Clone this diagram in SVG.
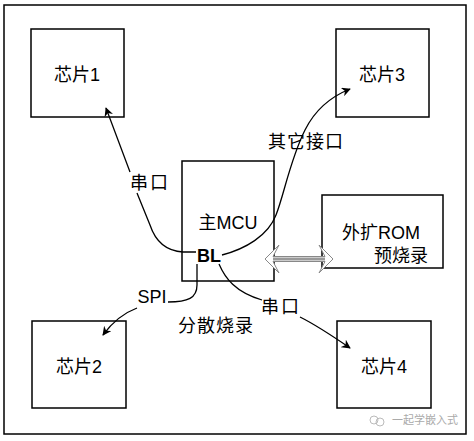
<svg xmlns="http://www.w3.org/2000/svg" width="474" height="441" viewBox="0 0 474 441">
<style>
.box{fill:#fff;stroke:#000;stroke-width:1.5}
.t{font-family:"Liberation Sans","Noto Sans CJK SC",sans-serif;font-size:18px;fill:#000;text-anchor:middle}
.b{font-weight:bold}
.ln{fill:none;stroke:#000;stroke-width:1.3}
.wm{font-family:"Noto Sans CJK SC",sans-serif;font-size:11px;fill:#aaa}
</style>
<defs>
<marker id="ah" viewBox="0 0 10 10" refX="9" refY="5" markerWidth="9" markerHeight="9" markerUnits="userSpaceOnUse" orient="auto">
<path d="M0,0 L10,5 L0,10 L3,5 Z" fill="#000"/>
</marker>
</defs>
<rect x="0" y="0" width="474" height="441" fill="#fff"/>
<rect id="frame" x="4" y="5" width="462" height="429" fill="none" stroke="#000" stroke-width="1.5"/>
<g id="chip1"><rect class="box" x="31" y="29" width="93" height="88"/><text class="t" x="77" y="81">芯片1</text></g>
<g id="chip3"><rect class="box" x="336" y="29" width="93" height="88"/><text class="t" x="382" y="81">芯片3</text></g>
<g id="chip2"><rect class="box" x="32" y="321" width="94" height="87"/><text class="t" x="79" y="373">芯片2</text></g>
<g id="chip4"><rect class="box" x="337" y="321" width="94" height="87"/><text class="t" x="384" y="373">芯片4</text></g>
<g id="mcu"><rect class="box" x="182" y="161" width="92" height="120"/><text class="t" x="228" y="229">主MCU</text><text class="t b" x="209" y="262">BL</text></g>
<g id="rom"><rect class="box" x="322" y="195" width="121" height="73"/><text class="t" x="381" y="239">外扩ROM</text><text class="t" x="401" y="262">预烧录</text></g>
<g id="connectors">
<path class="ln" d="M196,252 L183,252 C165,251 155,240 150,225 L137,193"/>
<path class="ln" d="M130,172 L106,108" marker-end="url(#ah)"/>
<path class="ln" d="M222,255 C245,249 268,236 276,215 C284,195 290,160 305,130 C315,110 330,97 350,89" marker-end="url(#ah)"/>
<path class="ln" d="M197,264 L197,285 C197,298 188,302 168,302"/>
<path class="ln" d="M137,308 C121,314 111,324 103,335" marker-end="url(#ah)"/>
<path class="ln" d="M219,264 C225,278 235,292 262,300"/>
<path class="ln" d="M300,317 C318,326 334,337 350,348" marker-end="url(#ah)"/>
<g id="dbl-arrow">
<polygon points="265,259 279,245 273,256.5 325,256.5 319,245 333,259 319,273 325,261.5 273,261.5 279,273" fill="#fff" stroke="#888" stroke-width="1"/>
<rect x="273" y="257.5" width="52" height="3" fill="#999"/>
</g>
</g>
<g id="labels">
<text class="t" x="150" y="189" letter-spacing="2">串口</text>
<text class="t" x="306" y="148" letter-spacing="1">其它接口</text>
<text class="t" x="152" y="303">SPI</text>
<text class="t" x="281" y="313" letter-spacing="2">串口</text>
<text class="t" x="216" y="332" letter-spacing="1">分散烧录</text>
</g>
<g id="watermark">
<circle cx="374" cy="420" r="4" fill="none" stroke="#bbb" stroke-width="1"/>
<circle cx="380" cy="422" r="4" fill="none" stroke="#bbb" stroke-width="1"/>
<text class="wm" x="392" y="424">一起学嵌入式</text>
</g>
</svg>
